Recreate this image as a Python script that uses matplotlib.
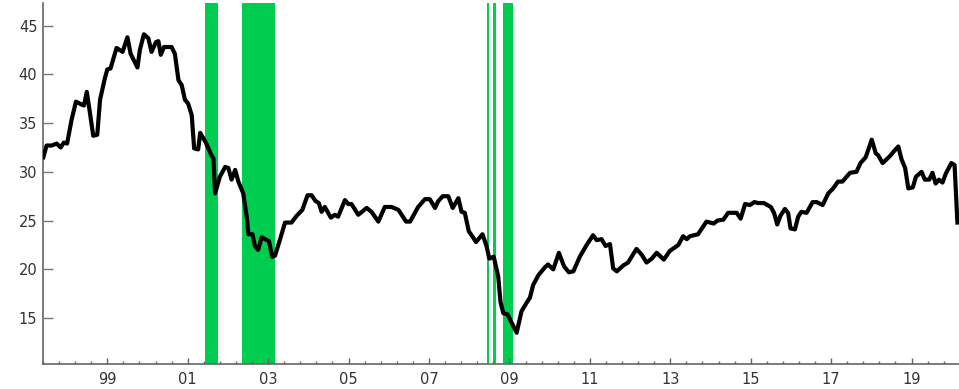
import numpy as np
import matplotlib
matplotlib.use("Agg")
import matplotlib.pyplot as plt
from matplotlib.ticker import MultipleLocator, AutoMinorLocator, FuncFormatter

# decimal year / value pairs
years = [
    1997.41, 1997.49, 1997.62, 1997.74, 1997.84, 1997.92, 1998.00, 1998.11, 1998.22, 1998.36,
    1998.42, 1998.49, 1998.57, 1998.65, 1998.75, 1998.82, 1998.94, 1999.00, 1999.08, 1999.23,
    1999.38, 1999.50, 1999.58, 1999.75, 1999.81, 1999.91, 2000.02, 2000.10, 2000.21, 2000.27,
    2000.33, 2000.41, 2000.60, 2000.68, 2000.77, 2000.85, 2000.93, 2001.01, 2001.10, 2001.16,
    2001.26, 2001.31, 2001.45, 2001.60, 2001.64, 2001.68, 2001.80, 2001.93, 2002.01, 2002.09,
    2002.18, 2002.26, 2002.38, 2002.47, 2002.51, 2002.61, 2002.67, 2002.75, 2002.84, 2002.92,
    2003.02, 2003.10, 2003.17, 2003.29, 2003.42, 2003.58, 2003.71, 2003.85, 2003.98, 2004.08,
    2004.18, 2004.26, 2004.33, 2004.41, 2004.56, 2004.66, 2004.74, 2004.91, 2004.99, 2005.07,
    2005.12, 2005.24, 2005.45, 2005.57, 2005.74, 2005.90, 2006.07, 2006.24, 2006.43, 2006.53,
    2006.73, 2006.90, 2007.02, 2007.15, 2007.23, 2007.34, 2007.48, 2007.59, 2007.73, 2007.81,
    2007.89, 2007.99, 2008.06, 2008.17, 2008.33, 2008.43, 2008.50, 2008.61, 2008.72, 2008.78,
    2008.85, 2008.95, 2009.01, 2009.18, 2009.30, 2009.43, 2009.51, 2009.59, 2009.72, 2009.88,
    2009.96, 2010.09, 2010.23, 2010.36, 2010.48, 2010.59, 2010.75, 2010.92, 2011.08, 2011.17,
    2011.29, 2011.39, 2011.50, 2011.58, 2011.67, 2011.83, 2011.95, 2012.16, 2012.29, 2012.41,
    2012.54, 2012.66, 2012.84, 2012.99, 2013.20, 2013.32, 2013.41, 2013.49, 2013.69, 2013.90,
    2014.08, 2014.17, 2014.32, 2014.44, 2014.56, 2014.65, 2014.75, 2014.86, 2014.98, 2015.09,
    2015.19, 2015.33, 2015.50, 2015.58, 2015.66, 2015.74, 2015.85, 2015.93, 2015.99, 2016.10,
    2016.18, 2016.26, 2016.39, 2016.54, 2016.64, 2016.79, 2016.93, 2017.05, 2017.17, 2017.28,
    2017.47, 2017.63, 2017.73, 2017.86, 2018.01, 2018.11, 2018.17, 2018.28, 2018.46, 2018.56,
    2018.67, 2018.75, 2018.84, 2018.92, 2019.03, 2019.11, 2019.25, 2019.33, 2019.44, 2019.52,
    2019.60, 2019.68, 2019.77, 2019.85, 2019.99, 2020.07, 2020.14,
]
values = [
    31.5, 32.7, 32.7, 32.9, 32.5, 33.0, 32.9, 35.3, 37.2, 36.9,
    36.8, 38.2, 36.0, 33.7, 33.8, 37.4, 39.6, 40.5, 40.6, 42.7,
    42.3, 43.8, 42.1, 40.7, 42.5, 44.1, 43.7, 42.3, 43.3, 43.4,
    42.0, 42.8, 42.8, 42.1, 39.4, 38.9, 37.4, 37.0, 35.8, 32.4,
    32.3, 34.0, 33.0, 31.6, 31.4, 27.8, 29.5, 30.5, 30.4, 29.2,
    30.2, 29.0, 27.8, 25.3, 23.6, 23.6, 22.4, 22.0, 23.3, 23.1,
    22.9, 21.3, 21.4, 23.0, 24.8, 24.8, 25.5, 26.1, 27.6, 27.6,
    27.0, 26.8, 25.9, 26.4, 25.3, 25.6, 25.4, 27.1, 26.7, 26.7,
    26.4, 25.6, 26.3, 25.9, 24.9, 26.4, 26.4, 26.1, 24.9, 24.9,
    26.4, 27.2, 27.2, 26.3, 27.0, 27.5, 27.5, 26.3, 27.3, 25.9,
    25.8, 23.9, 23.5, 22.8, 23.6, 22.4, 21.1, 21.3, 19.3, 16.6,
    15.5, 15.4, 14.9, 13.5, 15.7, 16.6, 17.1, 18.4, 19.4, 20.2,
    20.5, 20.0, 21.7, 20.3, 19.7, 19.8, 21.3, 22.5, 23.5, 23.0,
    23.1, 22.4, 22.6, 20.1, 19.8, 20.4, 20.7, 22.1, 21.5, 20.7,
    21.1, 21.7, 21.0, 21.9, 22.5, 23.4, 23.1, 23.4, 23.6, 24.9,
    24.7, 25.0, 25.1, 25.8, 25.8, 25.8, 25.2, 26.7, 26.6, 26.9,
    26.8, 26.8, 26.4, 25.8, 24.6, 25.5, 26.2, 25.8, 24.2, 24.1,
    25.4, 25.9, 25.8, 26.9, 26.9, 26.6, 27.8, 28.3, 29.0, 29.0,
    29.9, 30.0, 30.9, 31.5, 33.3, 31.9, 31.7, 30.9, 31.6, 32.1,
    32.6, 31.3, 30.4, 28.3, 28.4, 29.5, 30.0, 29.2, 29.2, 29.9,
    28.8, 29.2, 28.9, 29.8, 30.9, 30.7, 24.8,
]

# shaded periods (start, end) in decimal years
shade_start = [2001.43, 2002.34, 2008.43, 2008.59, 2008.85]
shade_end = [2001.75, 2003.17, 2008.50, 2008.66, 2009.10]

fig = plt.figure(figsize=(9.59, 3.89), dpi=100)
ax = fig.add_axes([0.0448, 0.0643, 0.9552, 0.9277])

for s, e in zip(shade_start, shade_end):
    ax.axvspan(s, e, color="#00cc50", lw=0, zorder=1)

ax.plot(years, values, color="black", lw=3.0, solid_joinstyle="round", zorder=3)

ax.set_xlim(1997.4, 2020.18)
ax.set_ylim(10.3, 47.3)

ax.xaxis.set_major_locator(MultipleLocator(2, offset=1))
ax.xaxis.set_minor_locator(AutoMinorLocator(5))
ax.xaxis.set_major_formatter(FuncFormatter(lambda v, p: "%02d" % (int(round(v)) % 100)))
ax.yaxis.set_major_locator(MultipleLocator(5))

for side in ["top", "right"]:
    ax.spines[side].set_visible(False)
for side in ["left", "bottom"]:
    ax.spines[side].set_color("#666666")
    ax.spines[side].set_linewidth(1.2)

ax.tick_params(axis="y", which="major", direction="in", length=7, width=1,
               color="#777777", labelsize=10.5, labelcolor="#333333", pad=4)
ax.tick_params(axis="x", which="major", direction="in", length=4.5, width=1,
               color="#666666", labelsize=10.5, labelcolor="#333333", pad=6)
ax.tick_params(axis="x", which="minor", direction="in", length=2.5, width=1,
               color="#666666")

fig.savefig("out.png", dpi=100)
